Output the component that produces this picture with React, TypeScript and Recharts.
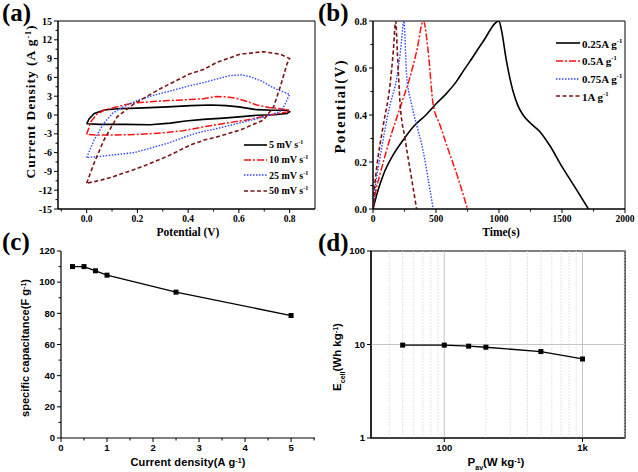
import React from "react";
import { LineChart, Line, XAxis, YAxis, ReferenceArea, ReferenceLine, Legend } from "recharts";

// (a) CV loops, [potential V, current density A/g], traced around each loop
const cv5 = [[0,-1.4],[0.01,-0.6],[0.03,0.25],[0.07,0.8],[0.12,1.0],[0.2,1.1],[0.32,1.3],[0.41,1.5],[0.49,1.6],[0.55,1.5],[0.6,1.3],[0.67,0.85],[0.73,0.75],[0.79,0.75],[0.8,0.5],[0.79,0.25],[0.74,0.05],[0.67,-0.05],[0.6,-0.3],[0.54,-0.5],[0.46,-0.7],[0.39,-0.95],[0.33,-1.3],[0.25,-1.55],[0.15,-1.5],[0.05,-1.5],[0,-1.4]];
const cv10 = [[0,-3.1],[0.016,-1.1],[0.04,0.1],[0.07,0.8],[0.12,1.3],[0.18,1.9],[0.25,2.1],[0.32,2.3],[0.38,2.4],[0.46,2.6],[0.51,2.95],[0.55,2.9],[0.59,2.65],[0.63,2.2],[0.67,1.6],[0.72,1.2],[0.76,1.0],[0.8,0.8],[0.79,0.5],[0.76,0.3],[0.7,-0.2],[0.63,-0.8],[0.54,-1.35],[0.46,-1.9],[0.38,-2.5],[0.3,-2.85],[0.2,-3.1],[0.1,-3.2],[0.04,-3.2],[0,-3.1]];
const cv25 = [[0,-6.8],[0.029,-4.0],[0.068,-1.3],[0.1,0.2],[0.13,1.0],[0.187,2.1],[0.25,3.0],[0.318,3.7],[0.4,4.6],[0.463,5.2],[0.5,5.6],[0.566,6.3],[0.61,6.4],[0.645,6.1],[0.69,5.4],[0.724,4.6],[0.76,3.9],[0.8,3.3],[0.79,2.4],[0.775,1.2],[0.76,0.5],[0.7,-0.3],[0.6,-1.3],[0.5,-2.3],[0.45,-2.7],[0.408,-3.2],[0.32,-4.5],[0.25,-5.3],[0.187,-6.0],[0.1,-6.4],[0.055,-6.6],[0,-6.8]];
const cv50 = [[0,-10.9],[0.029,-7.7],[0.068,-4.0],[0.12,-0.3],[0.187,1.8],[0.29,4.2],[0.408,6.6],[0.463,7.3],[0.513,8.4],[0.605,9.7],[0.697,10.1],[0.763,9.7],[0.8,9.0],[0.79,8.2],[0.763,4.5],[0.737,1.3],[0.697,-0.8],[0.605,-2.4],[0.513,-3.5],[0.463,-4.0],[0.408,-4.8],[0.318,-6.6],[0.24,-7.9],[0.187,-8.7],[0.1,-9.9],[0.055,-10.4],[0,-10.9]];
const cvLabels = ["5 mV s", "10 mV s", "25 mV s", "50 mV s"];

// (b) charge/discharge, [time s, potential V]
const gcd025 = [[0,0],[40,0.08],[82,0.146],[160,0.23],[240,0.294],[320,0.35],[420,0.4],[505,0.45],[580,0.49],[663,0.543],[720,0.59],[769,0.628],[874,0.713],[1000,0.8],[1020,0.76],[1059,0.63],[1112,0.5],[1150,0.44],[1191,0.4],[1260,0.36],[1323,0.33],[1403,0.27],[1500,0.18],[1600,0.095],[1710,0]];
const gcd05 = [[0,0],[20,0.07],[55,0.146],[135,0.3],[214,0.43],[293,0.56],[346,0.67],[400,0.8],[438,0.67],[478,0.443],[530,0.36],[584,0.273],[670,0.14],[750,0]];
const gcd075 = [[0,0],[20,0.1],[55,0.217],[135,0.443],[188,0.556],[220,0.68],[245,0.8],[267,0.57],[307,0.443],[350,0.35],[399,0.245],[440,0.12],[478,0]];
const gcd1 = [[0,0],[10,0.08],[29,0.174],[82,0.358],[135,0.528],[161,0.67],[180,0.8],[193,0.67],[214,0.457],[254,0.3],[300,0.15],[346,0]];
const gcdLabels = ["0.25A g", "0.5A g", "0.75A g", "1A g"];

// (c) rate capability
const currentDensity = [0.25, 0.5, 0.75, 1, 2.5, 5];
const capacitance = [110, 110, 107.3, 104.5, 93.6, 78.6];

// (d) Ragone
const powerDensity = [50, 100, 150, 200, 500, 1000];
const energyDensity = [9.85, 9.85, 9.6, 9.35, 8.4, 7.0];

// ticks
const aXTicks = [-0.1, 0, 0.1, 0.2, 0.3, 0.4, 0.5, 0.6, 0.7, 0.8];
const aXMajor = [0, 0.2, 0.4, 0.6, 0.8];
const aYTicks = [-15, -13.5, -12, -10.5, -9, -7.5, -6, -4.5, -3, -1.5, 0, 1.5, 3, 4.5, 6, 7.5, 9, 10.5, 12, 13.5, 15];
const aYMajor = [-15, -12, -9, -6, -3, 0, 3, 6, 9, 12, 15];
const bXTicks = [0, 250, 500, 750, 1000, 1250, 1500, 1750, 2000];
const bXMajor = [0, 500, 1000, 1500, 2000];
const bYTicks = [0, 0.1, 0.2, 0.3, 0.4, 0.5, 0.6, 0.7, 0.8];
const bYMajor = [0, 0.2, 0.4, 0.6, 0.8];
const cXTicks = [0, 0.5, 1, 1.5, 2, 2.5, 3, 3.5, 4, 4.5, 5, 5.5];
const cXMajor = [0, 1, 2, 3, 4, 5];
const cYTicks = [0, 10, 20, 30, 40, 50, 60, 70, 80, 90, 100, 110, 120];
const cYMajor = [0, 20, 40, 60, 80, 100, 120];
const dXTicks = [100, 1000];
const dYTicks = [1, 10, 100];
const dGridMajorX = [100, 1000];
const dGridMinorX = [40, 50, 60, 70, 80, 90, 200, 300, 400, 500, 600, 700, 800, 900, 2000];

const SERIF = '"Liberation Serif", "Times New Roman", serif';
const SANS = '"Liberation Sans", Arial, sans-serif';

const styles = [
  { color: "#000000", dash: undefined as string | undefined, width: 1.6 },
  { color: "#ff1010", dash: "7 2 2 2", width: 1.5 },
  { color: "#3046ff", dash: "1.5 1.5", width: 1.4 },
  { color: "#7a1414", dash: "4 2.5", width: 1.6 },
];

const toObj = (arr: number[][], kx: string, ky: string) => arr.map(([a, b]) => ({ [kx]: a, [ky]: b }));
const cvSeries = [cv5, cv10, cv25, cv50].map((s) => toObj(s, "v", "i"));
const gcdSeries = [gcd025, gcd05, gcd075, gcd1].map((s) => toObj(s, "t", "p"));
const capData = currentDensity.map((x, k) => ({ x, y: capacitance[k] }));
const ragoneData = powerDensity.map((x, k) => ({ x, y: energyDensity[k] }));

function axisTick(side: "left" | "bottom", majors: number[], fmt: (v: number) => string, font: string, size: number, gap = 6) {
  return (props: any) => {
    const { x, y, payload } = props;
    const v = payload.value;
    const major = majors.some((m) => Math.abs(m - v) < 1e-9);
    const len = major ? 4 : 2.5;
    const txt = { fontFamily: font, fontWeight: "bold" as const, fontSize: size, fill: "#000" };
    if (side === "left") {
      return (
        <g>
          <line x1={x} y1={y} x2={x - len} y2={y} stroke="#000" strokeWidth={1} />
          {major && <text x={x - 6} y={y} dy="0.35em" textAnchor="end" {...txt}>{fmt(v)}</text>}
        </g>
      );
    }
    return (
      <g>
        <line x1={x} y1={y} x2={x} y2={y + len} stroke="#000" strokeWidth={1} />
        {major && <text x={x} y={y + gap} dy="0.75em" textAnchor="middle" {...txt}>{fmt(v)}</text>}
      </g>
    );
  };
}

function LegendBox({ labels, rowH, sampleW, size }: { labels: string[]; rowH: number; sampleW: number; size: number }) {
  return (
    <div style={{ fontFamily: SERIF, fontWeight: "bold", fontSize: size, color: "#000", lineHeight: 1 }}>
      {labels.map((lab, k) => (
        <div key={lab} style={{ display: "flex", alignItems: "center", height: rowH, whiteSpace: "nowrap" }}>
          <svg width={sampleW} height={6} style={{ marginRight: 2 }}>
            <line x1={0} x2={sampleW} y1={3} y2={3} stroke={styles[k].color} strokeWidth={styles[k].width} strokeDasharray={styles[k].dash} />
          </svg>
          <span>
            {lab}
            <sup style={{ fontSize: size * 0.6 }}>-1</sup>
          </span>
        </div>
      ))}
    </div>
  );
}

const Square = (p: any) => <rect key={p.index} x={p.cx - 2.5} y={p.cy - 2.5} width={5} height={5} fill="#000" />;

const f1 = (v: number) => v.toFixed(1);
const f0 = (v: number) => String(v);
const fk = (v: number) => (v >= 1000 ? `${v / 1000}k` : String(v));

function PanelA() {
  return (
    <LineChart width={320} height={236} margin={{ top: 21, right: 5, bottom: 0, left: 0 }}>
      <XAxis dataKey="v" type="number" domain={[-0.113, 0.9]} allowDataOverflow ticks={aXTicks} interval={0} tickSize={0} tickMargin={0} tick={axisTick("bottom", aXMajor, f1, SERIF, 9.5, 5.5)} height={27} stroke="#000" />
      <YAxis type="number" domain={[-15, 15]} allowDataOverflow ticks={aYTicks} interval={0} tickSize={0} tickMargin={0} tick={axisTick("left", aYMajor, f0, SERIF, 10)} width={58} stroke="#000" />
      <ReferenceArea x1={-0.113} x2={0.9} y1={-15} y2={15} fill="none" fillOpacity={0} stroke="#000" strokeWidth={1} />
      {cvSeries.map((d, k) => (
        <Line key={k} data={d} dataKey="i" type="linear" stroke={styles[k].color} strokeWidth={styles[k].width} strokeDasharray={styles[k].dash} dot={false} isAnimationActive={false} />
      ))}
      <Legend layout="horizontal" verticalAlign="middle" align="center" wrapperStyle={{ left: 244, top: 137, width: 76 }} content={() => <LegendBox labels={cvLabels} rowH={15.3} sampleW={23} size={10} />} />
    </LineChart>
  );
}

function PanelB() {
  return (
    <LineChart width={320} height={236} margin={{ top: 21, right: 13, bottom: 0, left: 0 }}>
      <XAxis dataKey="t" type="number" domain={[0, 2000]} allowDataOverflow ticks={bXTicks} interval={0} tickSize={0} tickMargin={0} tick={axisTick("bottom", bXMajor, f0, SERIF, 9.5, 5.5)} height={27} stroke="#000" />
      <YAxis type="number" domain={[0, 0.8]} allowDataOverflow ticks={bYTicks} interval={0} tickSize={0} tickMargin={0} tick={axisTick("left", bYMajor, f1, SERIF, 10)} width={55} stroke="#000" />
      <ReferenceArea x1={0} x2={2000} y1={0} y2={0.8} fill="none" fillOpacity={0} stroke="#000" strokeWidth={1} />
      {gcdSeries.map((d, k) => (
        <Line key={k} data={d} dataKey="p" type="monotone" stroke={styles[k].color} strokeWidth={styles[k].width} strokeDasharray={styles[k].dash} dot={false} isAnimationActive={false} />
      ))}
      <Legend layout="horizontal" verticalAlign="middle" align="center" wrapperStyle={{ left: 238, top: 34.5, width: 82 }} content={() => <LegendBox labels={gcdLabels} rowH={17.7} sampleW={24} size={11} />} />
    </LineChart>
  );
}

function PanelC() {
  return (
    <LineChart width={320} height={236} data={capData} margin={{ top: 15, right: 5, bottom: 0, left: 0 }}>
      <XAxis dataKey="x" type="number" domain={[0, 5.52]} allowDataOverflow ticks={cXTicks} interval={0} tickSize={0} tickMargin={0} tick={axisTick("bottom", cXMajor, f0, SANS, 9.5)} height={34} stroke="#000" strokeWidth={1.2} />
      <YAxis type="number" domain={[0, 120]} allowDataOverflow ticks={cYTicks} interval={0} tickSize={0} tickMargin={0} tick={axisTick("left", cYMajor, f0, SANS, 9.5)} width={61} stroke="#000" strokeWidth={1.2} />
      <Line dataKey="y" type="linear" stroke="#000" strokeWidth={1.3} dot={Square} isAnimationActive={false} />
    </LineChart>
  );
}

function PanelD() {
  return (
    <LineChart width={320} height={236} data={ragoneData} margin={{ top: 15, right: 13, bottom: 0, left: 0 }}>
      <XAxis dataKey="x" type="number" scale="log" domain={[29.5, 2030]} allowDataOverflow ticks={dXTicks} interval={0} tickSize={0} tickMargin={0} tick={axisTick("bottom", dXTicks, fk, SANS, 9.5)} height={34} stroke="#000" strokeWidth={1.2} />
      <YAxis type="number" scale="log" domain={[1, 100]} allowDataOverflow ticks={dYTicks} interval={0} tickSize={0} tickMargin={0} tick={axisTick("left", dYTicks, f0, SANS, 9.5)} width={53} stroke="#000" strokeWidth={1.2} />
      {dGridMinorX.map((g) => (
        <ReferenceLine key={`m${g}`} x={g} stroke="#dcdcdc" strokeDasharray="2 1" strokeWidth={0.8} />
      ))}
      {dGridMajorX.map((g) => (
        <ReferenceLine key={`M${g}`} x={g} stroke="#c4c4c4" strokeWidth={1} />
      ))}
      <ReferenceLine y={10} stroke="#c4c4c4" strokeWidth={1} />
      <ReferenceArea x1={29.5} x2={2030} y1={1} y2={100} fill="none" fillOpacity={0} stroke="#000" strokeWidth={1.2} />
      <Line dataKey="y" type="linear" stroke="#000" strokeWidth={1.3} dot={Square} isAnimationActive={false} />
    </LineChart>
  );
}

const sup = (s: number) => <tspan baselineShift="super" fontSize={s}>-1</tspan>;

function Titles() {
  const serif = { fontFamily: SERIF, fontWeight: "bold" as const, fill: "#000" };
  const sans = { fontFamily: SANS, fontWeight: "bold" as const, fill: "#000" };
  return (
    <svg width={638} height={472} style={{ position: "absolute", left: 0, top: 0, pointerEvents: "none" }}>
      <text x={2} y={21} fontSize={25} {...serif}>(a)</text>
      <text x={318} y={21} fontSize={25} {...serif}>(b)</text>
      <text x={2} y={250} fontSize={25} {...serif}>(c)</text>
      <text x={318} y={251} fontSize={25} {...serif}>(d)</text>

      <text x={35} y={102} fontSize={13.5} textAnchor="middle" textLength={153} lengthAdjust="spacing" transform="rotate(-90 35 102)" {...serif}>
        Current Density (A g{sup(8)})
      </text>
      <text x={188} y={236} fontSize={11.5} textAnchor="middle" {...serif}>Potential (V)</text>

      <text x={345} y={107} fontSize={14.5} textAnchor="middle" textLength={93} lengthAdjust="spacing" transform="rotate(-90 345 107)" {...serif}>
        Potential(V)
      </text>
      <text x={501} y={236} fontSize={11.5} textAnchor="middle" {...serif}>Time(s)</text>

      <text x={29} y={348} fontSize={11} textAnchor="middle" textLength={138} lengthAdjust="spacing" transform="rotate(-90 29 348)" {...sans}>
        specific capacitance(F g{sup(7)})
      </text>
      <text x={188} y={466} fontSize={11} textAnchor="middle" textLength={115} lengthAdjust="spacing" {...sans}>
        Current density(A g{sup(7)})
      </text>

      <text x={341} y={357} fontSize={11.5} textAnchor="middle" transform="rotate(-90 341 357)" {...sans}>
        E<tspan baselineShift="sub" fontSize={7}>cell</tspan>(Wh kg{sup(7)})
      </text>
      <text x={496} y={466} fontSize={11.5} textAnchor="middle" {...sans}>
        P<tspan baselineShift="sub" fontSize={7}>av</tspan>(W kg{sup(7)})
      </text>
    </svg>
  );
}

export default function App() {
  return (
    <div style={{ position: "absolute", left: 0, top: 0, width: 638, height: 472, background: "#fff" }}>
      <div style={{ position: "absolute", left: 0, top: 0 }}><PanelA /></div>
      <div style={{ position: "absolute", left: 318, top: 0 }}><PanelB /></div>
      <div style={{ position: "absolute", left: 0, top: 236 }}><PanelC /></div>
      <div style={{ position: "absolute", left: 318, top: 236 }}><PanelD /></div>
      <Titles />
    </div>
  );
}
